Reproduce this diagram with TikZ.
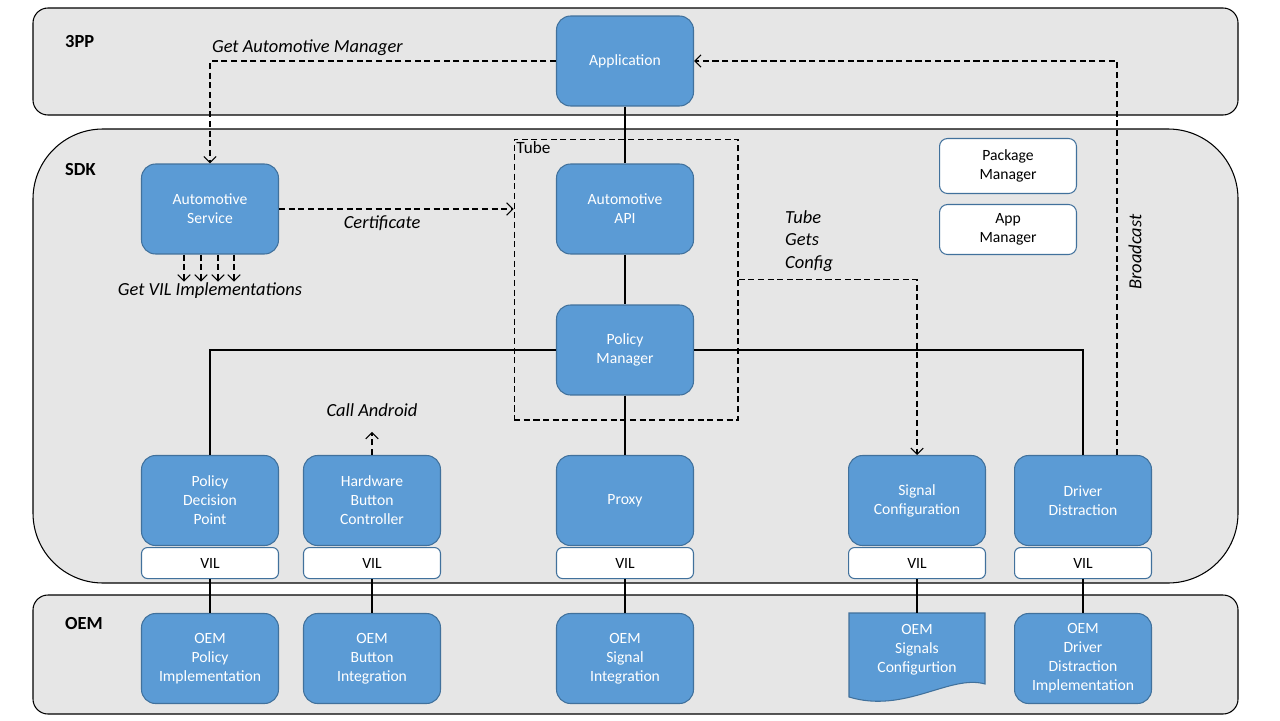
\documentclass[tikz,border=0pt]{standalone}
\usepackage{fontspec}
\setmainfont{Carlito}
\usetikzlibrary{positioning, arrows.meta}
\definecolor{layergray}{RGB}{230,230,230}
\definecolor{boxblue}{RGB}{91,155,213}
\definecolor{boxedge}{RGB}{65,113,156}

\begin{document}
\begin{tikzpicture}[x=0.02cm, y=-0.02cm, >={Straight Barb[length=3.5pt,width=7pt]},
  layer/.style={draw=black, fill=layergray, line width=0.6pt},
  layername/.style={anchor=west, font=\fontsize{10.5}{12}\selectfont\bfseries},
  blueblock/.style={draw=boxedge, fill=boxblue, rounded corners=0.28cm, minimum width=2.74cm, minimum height=1.8cm, align=center, text=white, font=\fontsize{8.9}{10.8}\selectfont, line width=0.6pt},
  vilbox/.style={draw=boxedge, fill=white, rounded corners=0.12cm, minimum width=2.74cm, minimum height=0.62cm, font=\fontsize{8.9}{10.8}\selectfont, line width=0.6pt},
  mgrbox/.style={draw=boxedge, fill=white, rounded corners=0.16cm, minimum width=2.74cm, align=center, font=\fontsize{8.9}{10.8}\selectfont, line width=0.6pt},
  link/.style={line width=0.6pt},
  dashlink/.style={line width=0.6pt, dash pattern=on 3.5pt off 2pt},
  callout/.style={align=left, font=\fontsize{10.5}{12.8}\selectfont\itshape}]
\useasboundingbox (0,0) rectangle (1280,720);

% Layers
\draw[layer, rounded corners=0.3cm] (33,8) rectangle (1238,115);
\draw[layer, rounded corners=1.4cm] (33,129) rectangle (1238,583);
\draw[layer, rounded corners=0.3cm] (33,595) rectangle (1238,714);
\node (l3pp) at (59,42) [layername] {3PP};
\node (lsdk) at (59,170) [layername] {SDK};
\node (loem) at (59,624) [layername] {OEM};

% Tube
\node (tube) at (626,279.5) [dashlink, draw, minimum width=4.48cm, minimum height=5.62cm] {};
\node (tubename) [anchor=north west, inner sep=1.5pt, font=\fontsize{9.8}{12}\selectfont] at (tube.north west) {Tube};

% 3PP / SDK blocks
\node (app) at (625,61) [blueblock] {Application};
\node (asvc) at (210,209) [blueblock] {Automotive\\Service};
\node (api) at (625,209) [blueblock] {Automotive\\API};
\node (pm) at (625,350) [blueblock] {Policy\\Manager};
\node (pkgmgr) at (1008,166) [mgrbox, minimum height=1.1cm] {Package\\Manager};
\node (appmgr) at (1008,229.5) [mgrbox, minimum height=1.0cm] {App\\Manager};

\node (pdp) at (210,500.5) [blueblock] {Policy\\Decision\\Point};
\node (hbc) at (372,500.5) [blueblock] {Hardware\\Button\\Controller};
\node (proxy) at (625,500.5) [blueblock] {Proxy};
\node (sigcfg) at (917,500.5) [blueblock] {Signal\\Configuration};
\node (drv) at (1083,500.5) [blueblock] {Driver\\Distraction};

\node (vilpdp) [vilbox, below=0.02cm of pdp] {VIL};
\node (vilhbc) [vilbox, below=0.02cm of hbc] {VIL};
\node (vilproxy) [vilbox, below=0.02cm of proxy] {VIL};
\node (vilsig) [vilbox, below=0.02cm of sigcfg] {VIL};
\node (vildrv) [vilbox, below=0.02cm of drv] {VIL};

% OEM blocks
\node (oempol) at (210,658.5) [blueblock] {OEM\\Policy\\Implementation};
\node (oembtn) at (372,658.5) [blueblock] {OEM\\Button\\Integration};
\node (oemsig) at (625,658.5) [blueblock] {OEM\\Signal\\Integration};
\draw[draw=boxedge, fill=boxblue, line width=0.6pt] (849,613) -- (985,613) -- (985,684) .. controls (950,674) and (905,714) .. (849,697) -- cycle;
\node (oemcfg) at (917,650) [align=center, text=white, font=\fontsize{8.9}{10.8}\selectfont] {OEM\\Signals\\Configurtion};
\node (oemdrv) at (1083,658.5) [blueblock] {OEM\\Driver\\Distraction\\Implementation};

% Solid links
\draw[link] (app) -- (api);
\draw[link] (api) -- (pm);
\draw[link] (pm) -- (proxy);
\draw[link] (pm.west) -| (pdp.north);
\draw[link] (pm.east) -| (drv.north);
\draw[link] (vilpdp) -- (oempol);
\draw[link] (vilhbc) -- (oembtn);
\draw[link] (vilproxy) -- (oemsig);
\draw[link] (vilsig.south) -- (oemcfg.north |- 613,613);
\draw[link] (vildrv) -- (oemdrv);

% Dashed links
\draw[dashlink, ->] (app.west) -| (asvc.north);
\node (getmgr) at (asvc.north |- app.west) [callout, anchor=south west, inner sep=1pt, yshift=2pt] {Get Automotive Manager};
\draw[dashlink, ->] (asvc.east) -- (asvc.east -| tube.west) node[pos=0.44, below, callout] (cert) {Certificate};
\foreach \dx in {-0.52,-0.18,0.16,0.48}
  \draw[dashlink, ->] ([xshift=\dx cm]asvc.south) -- ++(0,27);
\node (getvil) at (210,291) [callout] {Get VIL Implementations};
\draw[dashlink, ->] (tube.east) -| (sigcfg.north);
\node (tubecfg) at (779,241) [callout, anchor=west] {Tube\\Gets\\Config};
\draw[dashlink, ->] ([xshift=0.68cm]drv.north) |- (app.east);
\node (bcast) at (1135,252) [callout, rotate=90] {Broadcast};
\draw[dashlink, ->] (hbc.north) -- ++(0,-23);
\node (callandroid) at (372,410) [callout] {Call Android};
\end{tikzpicture}
\end{document}
